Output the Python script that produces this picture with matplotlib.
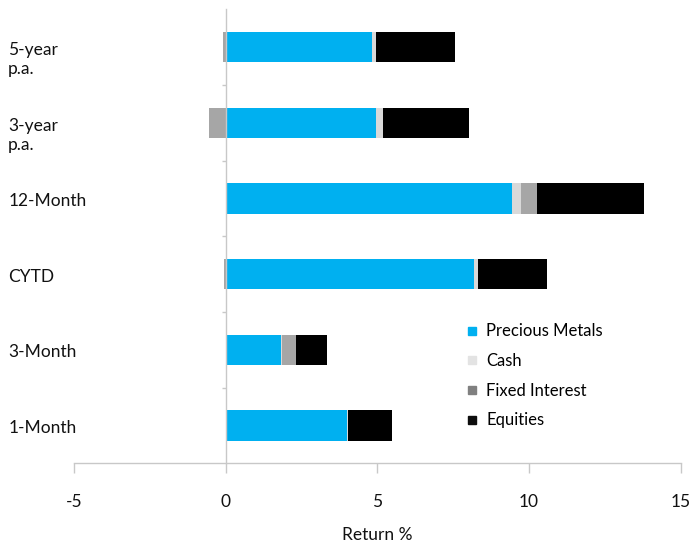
import numpy as np
import matplotlib
matplotlib.use("Agg")
import matplotlib.pyplot as plt
from matplotlib.lines import Line2D
from matplotlib.transforms import ScaledTranslation

plt.rcParams['font.family'] = ['Lato', 'DejaVu Sans']

# ---- data (categories listed top to bottom) ----
categories = ["5-year\np.a.", "3-year\np.a.", "12-Month", "CYTD", "3-Month", "1-Month"]
series_names = ["Precious Metals", "Cash", "Fixed Interest", "Equities"]
precious_metals = [4.83, 4.96, 9.44, 8.18, 1.83, 4.01]
cash = [0.13, 0.22, 0.29, 0.14, 0.03, 0.03]
fixed_interest = [-0.10, -0.55, 0.53, -0.07, 0.47, 0.0]
equities = [2.59, 2.85, 3.55, 2.28, 1.02, 1.45]
x_ticks = [-5, 0, 5, 10, 15]

bar_colors = ["#00B0F0", "#D9D9D9", "#A6A6A6", "#000000"]
legend_colors = ["#00B0F0", "#E3E3E3", "#808080", "#0D0D0D"]

fig = plt.figure(figsize=(6.91, 5.45), dpi=100)
ax = fig.add_axes([74/691, (545-463.3)/545, (680.5-74)/691, (463.3-9.3)/545])

y = np.arange(len(categories))
pos_base = np.zeros(len(categories))
neg_base = np.zeros(len(categories))
for vals, col, name in zip([precious_metals, cash, fixed_interest, equities], bar_colors, series_names):
    v = np.array(vals, dtype=float)
    left = np.where(v >= 0, pos_base, neg_base)
    ax.barh(y, v, left=left, height=0.40, color=col, label=name, linewidth=0)
    pos_base = pos_base + np.where(v >= 0, v, 0)
    neg_base = neg_base + np.where(v < 0, v, 0)

ax.set_xlim(-5, 15)
ax.set_ylim(len(categories) - 0.5, -0.5)
ax.set_xticks(x_ticks)
ax.set_xticklabels([str(t) for t in x_ticks])

axis_col = "#C8C8C8"
text_col = "#111111"
for s in ["top", "right"]:
    ax.spines[s].set_visible(False)
ax.spines["left"].set_position(("data", 0))
ax.spines["left"].set_color(axis_col)
ax.spines["bottom"].set_color(axis_col)
ax.spines["left"].set_linewidth(1.0)
ax.spines["bottom"].set_linewidth(1.0)

ax.tick_params(axis="x", direction="out", length=7.2, width=1.0, color=axis_col,
               labelsize=12.5, labelcolor=text_col, pad=15)
ax.set_yticks(y)
ax.set_yticks(np.arange(0.5, len(categories) - 0.5, 1.0), minor=True)
ax.set_yticklabels(categories)
ax.tick_params(axis="y", which="major", length=0, pad=156.6, labelsize=12.5, labelcolor=text_col)
ax.tick_params(axis="y", which="minor", length=3, width=1.0, color=axis_col, direction="out")
for lab in ax.get_yticklabels():
    nlines = lab.get_text().count("\n") + 1
    dy = -0.075 - 0.195 * (nlines - 1)
    lab.set_horizontalalignment("left")
    lab.set_verticalalignment("baseline")
    lab.set_linespacing(1.25)
    lab.set_transform(lab.get_transform() + ScaledTranslation(0, dy, fig.dpi_scale_trans))

ax.set_xlabel("Return %", fontsize=12.5, color=text_col, labelpad=12)

handles = [Line2D([], [], marker="s", linestyle="none", markersize=6,
                  markerfacecolor=c, markeredgecolor=c) for c in legend_colors]
ax.legend(handles, series_names, loc="upper left", bbox_to_anchor=(457/691, 1 - 315/545),
          bbox_transform=fig.transFigure, frameon=False, fontsize=12,
          handlelength=0.8, handletextpad=0.45, labelspacing=0.82, borderpad=0)

fig.savefig("out.png", dpi=100)
